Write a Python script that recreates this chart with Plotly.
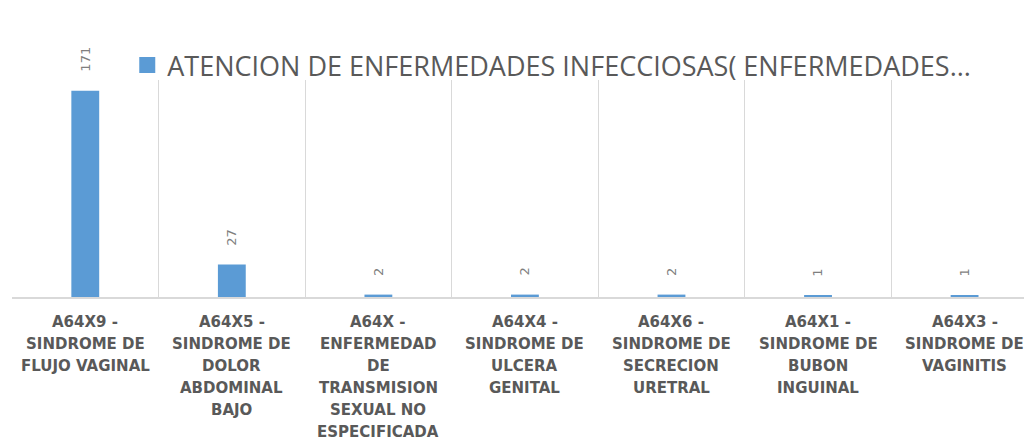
import plotly.graph_objects as go

series_name = "ATENCION DE ENFERMEDADES INFECCIOSAS( ENFERMEDADES..."
categories = [
    "A64X9 - SINDROME DE FLUJO VAGINAL",
    "A64X5 - SINDROME DE DOLOR ABDOMINAL BAJO",
    "A64X - ENFERMEDAD DE TRANSMISION SEXUAL NO ESPECIFICADA",
    "A64X4 - SINDROME DE ULCERA GENITAL",
    "A64X6 - SINDROME DE SECRECION URETRAL",
    "A64X1 - SINDROME DE BUBON INGUINAL",
    "A64X3 - SINDROME DE VAGINITIS",
]
label_lines = [
    ["A64X9 -", "SINDROME DE", "FLUJO VAGINAL"],
    ["A64X5 -", "SINDROME DE", "DOLOR", "ABDOMINAL", "BAJO"],
    ["A64X -", "ENFERMEDAD", "DE", "TRANSMISION", "SEXUAL NO", "ESPECIFICADA"],
    ["A64X4 -", "SINDROME DE", "ULCERA", "GENITAL"],
    ["A64X6 -", "SINDROME DE", "SECRECION", "URETRAL"],
    ["A64X1 -", "SINDROME DE", "BUBON", "INGUINAL"],
    ["A64X3 -", "SINDROME DE", "VAGINITIS"],
]
values = [171, 27, 2, 2, 2, 1, 1]

BLUE = "#5b9bd5"
GRAY = "#595959"
GRID = "#d9d9d9"

fig = go.Figure()
fig.add_trace(go.Bar(
    x=categories, y=values, marker=dict(color=BLUE, line=dict(width=0)),
    width=0.19, showlegend=False, hoverinfo="x+y",
))
fig.add_trace(go.Scatter(
    x=[None], y=[None], mode="markers", name=series_name,
    marker=dict(symbol="square", size=18, color=BLUE), showlegend=True,
))

annotations = []
for cat, v in zip(categories, values):
    annotations.append(dict(
        x=cat, y=v, xref="x", yref="y", text=str(v), showarrow=False,
        textangle=-90, yanchor="bottom", xanchor="center", yshift=17,
        font=dict(family="DejaVu Sans", size=13, color="#7f7f7f"),
    ))
for cat, lines in zip(categories, label_lines):
    for i, ln in enumerate(lines):
        annotations.append(dict(
            x=cat, y=0, xref="x", yref="paper", text=ln, showarrow=False,
            yanchor="top", xanchor="center", yshift=-14 - 22 * i,
            font=dict(family="DejaVu Sans", size=15, color=GRAY, weight="bold"),
        ))

fig.update_layout(
    width=1024, height=436,
    margin=dict(l=4, r=0, t=72, b=147),
    paper_bgcolor="white", plot_bgcolor="white",
    annotations=annotations,
    showlegend=True,
    legend=dict(
        orientation="h", x=0.113, xanchor="left", y=0.954, yanchor="bottom",
        font=dict(family="Open Sans", size=27, color=GRAY),
        bgcolor="rgba(0,0,0,0)", itemsizing="trace",
    ),
)
fig.update_xaxes(
    range=[-0.5, 6.46], showticklabels=False, ticks="",
    showgrid=True, gridcolor=GRID, gridwidth=1, tickson="boundaries",
    showline=True, linecolor=GRID, linewidth=1.5, zeroline=False,
)
fig.update_yaxes(range=[0, 180], visible=False, showgrid=False, zeroline=False)

fig.write_html("out.html")
